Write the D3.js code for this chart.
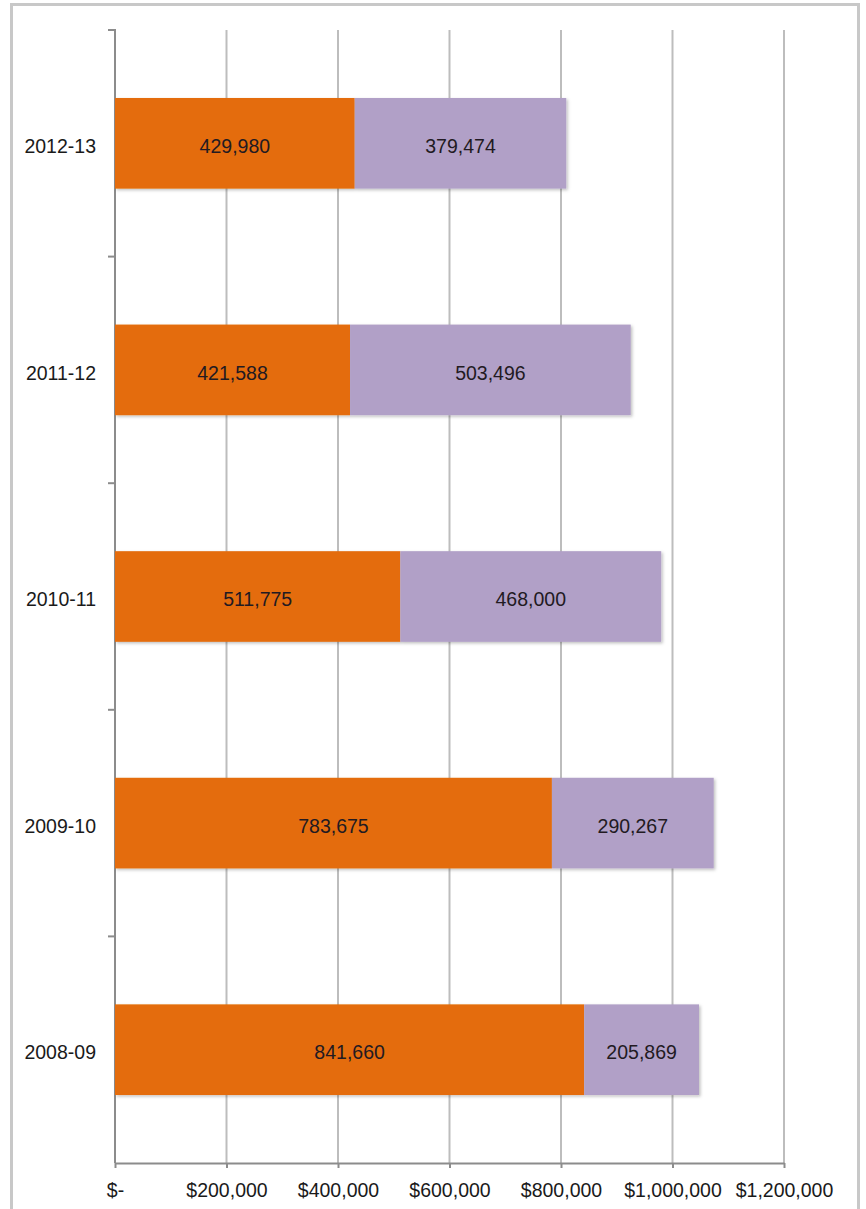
<!DOCTYPE html>
<html><head><meta charset="utf-8">
<script src="https://cdn.jsdelivr.net/npm/d3@7/dist/d3.min.js"></script>
<style>body{margin:0;background:#fff;font-family:"Liberation Sans",Arial,sans-serif;}</style>
</head><body><svg id="c" width="866" height="1209"></svg>
<script>
const categories = ["2012-13","2011-12","2010-11","2009-10","2008-09"];
const series1 = [429980, 421588, 511775, 783675, 841660];
const series2 = [379474, 503496, 468000, 290267, 205869];
const tickValues = [0,200000,400000,600000,800000,1000000,1200000];
const tickLabels = ["$-","$200,000","$400,000","$600,000","$800,000","$1,000,000","$1,200,000"];
const colors = ["#E46C0A","#B1A0C7"];

const svg = d3.select("#c");
const FS = 19.5;
// frame
svg.append("rect").attr("x",11.5).attr("y",4.5).attr("width",847).attr("height",1215)
  .attr("fill","none").attr("stroke","#c8c8c8").attr("stroke-width",3);

const x = d3.scaleLinear().domain([0,1200000]).range([115,784]);
const y = d3.scaleBand().domain(categories).range([30,1163]).paddingInner(0.6).paddingOuter(0.3);
const yTop = 30, yBot = 1163;

const defs = svg.append("defs");
const f = defs.append("filter").attr("id","sh").attr("x","-5%").attr("y","-10%").attr("width","115%").attr("height","130%");
f.append("feDropShadow").attr("dx",1.5).attr("dy",1.5).attr("stdDeviation",1.5).attr("flood-color","#000").attr("flood-opacity",0.25);

// gridlines
svg.append("g").selectAll("line").data(tickValues.slice(1)).join("line")
  .attr("x1",d=>x(d)).attr("x2",d=>x(d)).attr("y1",yTop).attr("y2",yBot)
  .attr("stroke","#bdbdbd").attr("stroke-width",2);

// bottom axis
const xAxis = d3.axisBottom(x).tickValues(tickValues).tickFormat((d,i)=>tickLabels[i]).tickSize(5).tickSizeOuter(0);
const gx = svg.append("g").attr("transform",`translate(0,${yBot})`).call(xAxis);
gx.select(".domain").attr("stroke","#8c8c8c").attr("stroke-width",2);
gx.selectAll(".tick line").attr("stroke","#8c8c8c").attr("stroke-width",2);
gx.selectAll(".tick text").attr("font-size",FS).attr("fill","#1a1a1a").attr("y",34).attr("dy",0)
  .attr("font-family","'Liberation Sans',Arial,sans-serif");

// left axis line and band ticks
svg.append("line").attr("x1",x(0)).attr("x2",x(0)).attr("y1",yTop-1).attr("y2",yBot)
  .attr("stroke","#8c8c8c").attr("stroke-width",2);
const step = (yBot-yTop)/categories.length;
svg.append("g").selectAll("line").data(d3.range(categories.length)).join("line")
  .attr("x1",x(0)-7).attr("x2",x(0)).attr("y1",(d)=>yTop+step*d).attr("y2",d=>yTop+step*d)
  .attr("stroke","#8c8c8c").attr("stroke-width",2);

// category labels
svg.append("g").selectAll("text").data(categories).join("text")
  .attr("x",96).attr("y",d=>y(d)+y.bandwidth()/2).attr("dy","0.5em")
  .attr("text-anchor","end").attr("font-size",FS).attr("fill","#1a1a1a").text(d=>d);

// bars
const rows = categories.map((c,i)=>({c, a:series1[i], b:series2[i]}));
const g = svg.append("g");
rows.forEach(r=>{
  const segs = [{x0:0,x1:r.a,col:colors[0],v:r.a},{x0:r.a,x1:r.a+r.b,col:colors[1],v:r.b}];
  const gg = g.append("g").attr("filter","url(#sh)");
  segs.forEach(s=>{
    gg.append("rect").attr("x",x(s.x0)).attr("y",y(r.c)).attr("width",x(s.x1)-x(s.x0))
      .attr("height",y.bandwidth()).attr("fill",s.col);
  });
  segs.forEach(s=>{
    g.append("text").attr("x",(x(s.x0)+x(s.x1))/2).attr("y",y(r.c)+y.bandwidth()/2).attr("dy","0.5em")
      .attr("text-anchor","middle").attr("font-size",FS).attr("fill","#221a22")
      .text(d3.format(",")(s.v));
  });
});
</script></body></html>
